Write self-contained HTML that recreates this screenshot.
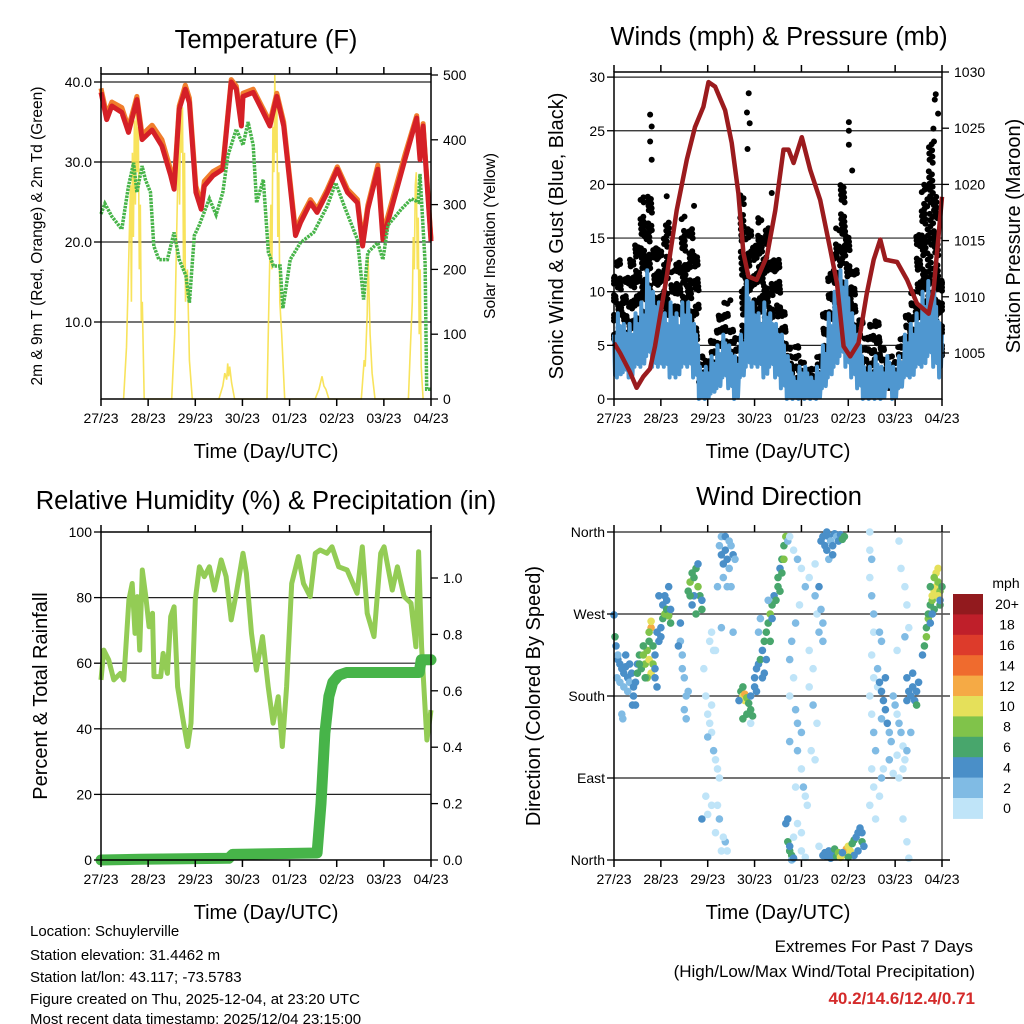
<!DOCTYPE html>
<html><head><meta charset="utf-8"><style>
html,body{margin:0;padding:0;background:#fff;}
svg{display:block;font-family:"Liberation Sans",sans-serif;}
</style></head><body>
<svg id="c" width="1024" height="1024" viewBox="0 0 1024 1024" xmlns="http://www.w3.org/2000/svg">
<g id="g"></g>
<g font-size="15" fill="#000">
<text x="30" y="936">Location: Schuylerville</text>
<text x="30" y="960">Station elevation: 31.4462 m</text>
<text x="30" y="982">Station lat/lon: 43.117; -73.5783</text>
<text x="30" y="1004">Figure created on Thu, 2025-12-04, at 23:20 UTC</text>
<text x="30" y="1024">Most recent data timestamp: 2025/12/04 23:15:00</text>
</g>
<g text-anchor="end">
<text x="973" y="952" font-size="17">Extremes For Past 7 Days</text>
<text x="975" y="977" font-size="17">(High/Low/Max Wind/Total Precipitation)</text>
<text x="975" y="1004" font-size="17" font-weight="bold" fill="#d42a2a">40.2/14.6/12.4/0.71</text>
</g>
</svg>
<script>
// ---------- data ----------
const dayLabels=["27/23","28/23","29/23","30/23","01/23","02/23","03/23","04/23"];
const tH=[0,2.9,5.5,10.6,14,18.3,20.9,26,31,35.5,37.2,39.8,42.9,45,48.3,51,52.6,57,62,66.3,68.9,71.5,72.3,77.5,81.8,86,89.5,93,99,101.5,106.6,110,115.2,120.3,125.5,130.6,133.2,135.8,140.9,143.5,147.8,154.7,160.7,162.4,164,168];
const t2m=[38.7,35.3,37,36.2,33.7,37.8,32.8,34,32,28.3,26.6,36.6,39.1,37.4,26.2,24.1,27,28.3,29.1,40,39.1,34.5,38.2,38.7,36.6,34.5,38.2,34.5,20.8,22.4,24.9,23.7,26.2,29.1,26.2,24.9,19.5,24.1,29.1,20.3,24.1,30.3,35.5,30.3,34.5,20.1];
const t9m=[39.2,35.9,37.5,36.8,34.3,38.2,33.4,34.6,32.8,29,27.2,37,39.6,38,27,24.7,27.6,28.8,29.5,40.3,39.5,35,38.6,39.1,37,35,38.6,35,21.4,22.9,25.3,24.1,26.6,29.4,26.6,25.3,20,24.6,29.6,21,24.8,30.9,35.8,30.8,34.8,20.4];
const tdH=[0,2,5.5,10.6,14,16.6,18.3,20.9,22.6,25.2,26.9,29.5,33.8,37.2,39.8,43.2,45,47.5,50,55.2,58.6,62,64.6,68.9,72.3,74.9,77.5,79.2,82.6,85.2,87.8,91.2,92.6,96.3,101.5,108.3,115.2,119.5,123.8,130.6,133.7,135.8,140.9,143.5,146.1,152.9,158,161.5,162.4,165,165.8,168];
const td2m=[23.5,24.8,23.2,21.6,27,29.9,26.2,29.5,27.8,26.2,19.5,17.8,17.8,21.2,17.8,15.8,12.4,20.8,22.1,25.4,23.4,26.2,30.8,34.1,32.1,35,32.1,24.9,27.8,18.7,17,17,11.7,17.8,19.9,21.2,24.5,27.4,24.5,20.3,12.8,18.7,19.9,17.8,22.1,24.1,25.4,25,28.5,17.4,1.6,1.6];
const solarH=[11.5,13,14,15,15.5,16,16.5,17,17.5,18,18.5,19,19.5,20,20.5,21,22,36,37.5,38.5,39.5,40,40.5,41,41.5,42,42.5,43,44,45,46.5,60,62,63,64,64.5,65,65.5,66.5,68,84.5,85.5,86.5,87,87.5,88,88.5,89,89.5,90,90.5,91,92,93.5,109,111,112.5,113.5,114.5,116,132.5,134,134.5,135,135.5,136,136.5,137,138,139.5,156.5,157.5,158.5,159,159.5,160,160.5,161,161.5,162,162.5,163,164];
const solarV=[0,80,200,330,150,380,250,430,300,460,350,420,200,300,120,150,0,0,100,250,400,300,460,380,450,200,380,150,200,60,0,0,20,40,30,55,35,50,25,0,0,150,300,200,420,350,500,380,470,250,350,150,100,0,0,15,35,20,15,0,0,60,50,90,130,220,160,100,40,0,0,80,150,250,200,330,350,200,280,100,200,50,0];
const presH=[0,3.1,8.2,11.6,15,18.5,21,27,32.1,37.3,41.5,45.8,48.4,51.8,56.9,60.3,63.7,66.3,68.9,73.1,78.3,82.6,86.8,89.4,92,96.2,100.5,105.6,110.8,114.2,117.6,121,125.3,129.5,133,136.4,139,145,150.1,155.2,161.2,163.7,166.3,168];
const presMb=[1005.9,1005,1003.3,1001.9,1002.9,1003.6,1005.6,1011.8,1017.7,1022.2,1025.1,1026.9,1029.1,1028.7,1026.6,1023.7,1019.2,1013.9,1011.8,1011.5,1013.6,1017.7,1023.1,1023.1,1021.9,1024.2,1021.3,1018.6,1014.2,1011.2,1005.6,1004.7,1005.9,1010.3,1013.3,1015.1,1013.3,1013.1,1011.5,1009.4,1008.5,1010.6,1015.6,1018.9];
const binH=[0,3,6,9,12,15,18,21,24,27,30,33,36,39,42,45,48,51,54,57,60,63,66,69,72,75,78,81,84,87,90,93,96,99,102,105,108,111,114,117,120,123,126,129,132,135,138,141,144,147,150,153,156,159,162,165,168];
const windLo=[2,2,2.5,2,3,3,4,3,3,3,2,2,3,3,2,0,0,0.5,1,2,1,0,2,3,3,3,2,3,2,1,0,0,0,0,0,0,1,2,3,4,3,2,1,0,0,0,0,1,0,1,2,2,3,3,4,3,2];
const windHi=[7,8,7,7,8,9,12,10,9,8,9,8,9,9,7,3,3,4,5,6,5,4,6,11,9,8,9,8,7,6,4,2,3,3,2,3,5,8,10,12,11,8,6,3,3,4,3,4,3,4,6,7,8,10,11,10,7];
const gustLo=[5,4,5,5,6,7,8,6,5,4,4,5,5,5,5,1,2,2,3,4,3,2,5,6,5,6,5,5,4,3,2,1,1,1,0.5,1,3,5,6,8,6,5,3,2,2,2,1,1,1,3,4,5,7,8,9,6,4];
const gustHi=[12,13,12,13,15,19,19,15,14,17,12,13,17,16,14,4,4,6,8,9,7,6,19,16,15,17,16,14,13,9,5,5,4,3,3,4,9,12,16,20,16,12,8,6,7,8,5,4,4,6,8,10,16,20,24,19,12];
const gustOutH=[18.5,19.3,18.5,19.3,27,69,68.1,69.5,68.4,120.3,120.3,120.3,122,164.8,164.3,166,163.6,163.9,41,80.8,59.6,52.7];
const gustOutV=[26.5,25.4,24,22.3,18.9,28.5,26.7,25.7,23.3,25.8,25,23.7,21.3,28.4,27.9,26.6,25.2,24,18,19.2,9.2,3.2];
const rhH=[0,1.4,3.9,6.5,9.9,11.6,14.2,15.9,17.3,18.5,19.7,21,22.8,24.5,26.2,27,30.4,31.6,33.8,35.5,37.2,39,41.5,44.1,45.8,48,50.1,52.6,55.2,57.8,61.2,63.7,66.3,68.9,72.3,74,76.6,79.1,82.2,85.1,87.6,90.2,92.3,94.5,97.1,100.5,103.1,106.5,109.1,111.6,115,117.6,121,125.3,130.4,133,135.5,139,142.4,144.1,148.3,150.9,154.3,157.8,160.3,161.7,163.2,165.9,168];
const rhV=[54.9,64,61,54.9,56.9,54.9,79.3,84.3,69.1,80.3,64,88.4,80.3,71.1,75.2,55.9,55.9,63,56.9,74.2,77.2,52.8,43.7,34.6,41.7,79.3,89.4,86.4,89.4,82.3,91.5,86.4,73.2,81.3,93.5,87.4,69.1,57.9,68.1,52.8,41.7,49.8,34.6,52.8,84.3,92.5,84.3,80.3,93.5,94.5,93.5,95.5,89.4,88.4,81.3,95.5,75.2,68.1,93.5,95.5,82.3,89.4,80.3,78.3,65,94,65,36.6,45.7];
const precH=[0,20,65,67,110,112,114,116,118,121,125,162,163,168];
const precIn=[0,0.003,0.006,0.02,0.025,0.2,0.45,0.58,0.63,0.655,0.665,0.665,0.71,0.71];
const speedBins=[0,2,4,6,8,10,12,14,16,18,20];
const speedLabels=["0","2","4","6","8","10","12","14","16","18","20+"];
const speedColors=["#bfe4f8","#80bbe4","#4a8fc8","#48a66c","#80c34a","#e5e05a","#f5aa45","#ef6b2e","#dd3b2b","#bf1f2a","#921a1e"];
const dirObs=[[0,269,4],[0.5,245,6],[1,235,4],[2,220,4],[3,215,4],[4,210,4],[5,205,4],[6,212,4],[7,200,4],[8,195,2],[9,205,4],[10,190,4],[10,180,4],[9.5,170,4],[4,160,2],[4.5,155,2],[3,195,2],[6,225,4],[12,215,4],[13,225,6],[12,205,6],[11,195,4],[2,225,2],[7,185,2],[8,215,4],[1.5,200,2],[11,170,4],[5,190,2],
[14,210,6],[15,225,8],[16,215,8],[17,230,8],[18,220,10],[18,240,6],[19,205,10],[17,200,8],[16,200,6],[20,215,8],[20,235,6],[21,225,4],[19,255,12],[19,262,10],[18,250,8],[15,235,6],[21,200,4],[22,190,4],[21,210,4],[13,215,6],
[23,240,4],[24,255,4],[25,265,6],[25,280,4],[26,270,8],[27,275,6],[28,268,8],[29,260,6],[26,290,4],[24,245,4],[22,250,4],[27,285,4],[29,275,4],[23,290,4],[28,300,4],
[34,260,4],[34,240,2],[35,225,2],[35,210,2],[36,200,2],[37,180,2],[36,165,2],[37,155,2],[33,235,4],[38,185,2],
[38,295,6],[39,305,8],[40,315,6],[41,310,6],[42,320,6],[43,300,8],[44,290,6],[45,275,6],[42,270,6],[40,280,4],[41,290,4],[43,325,4],[45,285,4],[39,290,6],
[47,180,0],[48,160,0],[49,150,0],[50,140,0],[51,120,2],[52,110,0],[50,170,0],[48,135,2],[53,100,0],[54,90,0],[50,60,0],[48,50,0],[47,70,0],[52,30,0],[54,45,2],[57,20,2],[58,10,0],[55,10,0],[49,240,0],[50,250,0],[51,230,0],[46,210,0],[53,60,0],[56,25,0],[45,45,4],
[54,345,2],[55,335,4],[56,325,4],[57,340,4],[58,330,4],[59,320,2],[60,345,2],[61,335,4],[62,330,2],[55,355,2],[57,355,4],[59,350,2],[56,310,2],[58,300,2],[60,300,2],[53,300,2],[52,230,0],[55,255,2],[61,250,2],
[65,185,6],[66,180,10],[67,182,12],[67,175,10],[68,178,8],[69,172,6],[66,190,6],[70,165,6],[71,158,6],[70,180,4],[72,190,4],[68,160,6],[64,175,4],[66,155,6],[70,150,0],
[72,200,4],[73,210,4],[74,215,4],[75,220,6],[76,230,4],[77,240,6],[78,250,6],[79,260,6],[80,270,8],[81,280,6],[82,290,4],[74,250,2],[75,265,2],[76,200,4],[78,220,4],[80,240,6],[79,285,2],[81,265,4],[73,185,4],[77,205,4],[83,285,6],[84,300,6],[84,310,6],[85,320,4],[86,330,6],[87,345,6],[88,355,8],[86,315,6],[85,295,6],[87,330,8],
[89,350,2],[90,355,0],[92,340,0],[94,330,2],[96,320,0],[98,300,2],[95,280,0],[93,260,2],[91,240,2],[90,220,2],[92,200,0],[90,180,0],[93,165,2],[94,150,2],[96,140,2],[94,120,2],[96,100,0],[97,80,2],[98,70,0],[94,40,0],[96,30,0],[100,230,0],[102,210,0],[100,190,0],[102,170,2],[104,150,0],[101,120,0],[103,110,0],[105,250,2],[104,270,0],[106,275,2],[107,260,2],[103,290,2],[100,310,0],[103,325,0],[105,300,4],[107,240,2],[90,130,2],[93,80,0],[99,60,0],[105,15,0],
[89,20,6],[90,10,6],[91,5,6],[90,15,4],[91,0,2],[92,2,4],[88,40,4],[89,45,4],[92,25,0],[96,10,0],[98,3,0],
[106,350,4],[107,355,4],[108,345,4],[109,340,4],[110,355,4],[111,350,2],[112,345,4],[113,358,4],[114,355,2],[115,350,4],[116,357,4],[117,352,6],[118,355,6],[110,330,2],[112,335,4],[109,360,4],
[107,5,4],[108,8,4],[109,4,4],[110,10,4],[111,2,4],[112,6,4],[113,12,6],[114,4,6],[115,8,8],[116,3,10],[118,6,10],[119,12,12],[120,15,10],[121,10,10],[122,18,6],[123,22,6],[124,25,4],[125,30,4],[126,35,4],[127,20,6],[125,10,4],[123,5,4],[128,15,4],[127,30,4],[117,8,4],[120,3,6],
[131,360,0],[131,340,0],[132,330,2],[131,310,0],[132,290,2],[133,270,2],[133,250,0],[132,225,0],[133,200,0],[131,180,0],[132,160,0],[133,140,2],[134,120,2],[132,100,0],[133,80,0],[131,60,0],[134,45,0],[136,70,0],[137,90,2],[138,100,0],[135,210,2],[136,250,2],[137,240,2],[135,190,0],
[136,195,4],[137,185,4],[138,175,4],[139,165,4],[140,150,4],[141,140,2],[139,200,4],[137,155,2],[142,130,2],[143,180,2],[144,170,2],[145,160,0],[146,150,2],[147,140,2],[148,125,0],[149,110,0],[150,175,4],[151,185,4],[152,180,4],[153,190,4],[154,175,4],[155,185,4],[156,195,4],[155,170,6],[148,100,0],[146,90,0],[150,120,2],[152,140,2],[145,115,0],[150,200,4],[153,205,4],[141,110,2],[143,95,0],
[146,350,0],[147,320,0],[149,300,0],[150,280,0],[151,255,0],[149,245,2],[145,230,0],[150,20,0],[151,2,0],[148,45,0],
[158,225,4],[159,235,6],[160,245,8],[160,255,6],[161,265,8],[161,270,6],[162,280,6],[163,285,8],[163,290,10],[164,295,10],[165,300,10],[166,305,8],[165,315,10],[166,320,10],[167,295,8],[167,280,6],[164,275,6],[162,260,4],[164,310,8],[166,290,10],[167,285,4],[168,300,6],[162,300,6],[163,270,4]];

// ---------- helpers ----------
const NS="http://www.w3.org/2000/svg";
const root=document.getElementById('g');
function mk(tag,attrs,parent){const e=document.createElementNS(NS,tag);for(const k in attrs)e.setAttribute(k,attrs[k]);(parent||root).appendChild(e);return e;}
function txt(x,y,s,attrs,parent){const e=mk('text',Object.assign({x:x,y:y},attrs||{}),parent);e.textContent=s;return e;}
function pathOf(xs,ys){return xs.map((x,i)=>(i?'L':'M')+x.toFixed(1)+' '+ys[i].toFixed(1)).join('');}
function frac(v){return v-Math.floor(v);}

function panel(name){const g=mk('g',{});return g;}
function frame(g,L,R,T,B){const f=mk('rect',{x:L,y:T,width:R-L,height:B-T,fill:'none',stroke:'#000','stroke-width':1.5},g);}
function xAxis(g,L,R,T,B){
  const ax=mk('g',{},g);
  dayLabels.forEach((s,i)=>{const x=L+i*(R-L)/7;
    mk('line',{x1:x,x2:x,y1:B,y2:B+7,stroke:'#000','stroke-width':1.5},ax);
    mk('line',{x1:x,x2:x,y1:T,y2:T-7,stroke:'#000','stroke-width':1.5},ax);
    const t=txt(x,B+24,s,{'font-size':14,'text-anchor':'middle'},ax);});
  const t=txt((L+R)/2,B+59,'Time (Day/UTC)',{'font-size':20,'text-anchor':'middle'},ax);
}
function hGrid(g,L,R,ys){ys.forEach(y=>mk('line',{x1:L,x2:R,y1:y,y2:y,stroke:'#222','stroke-width':1.2},g));}
function yTicks(g,x,ys,labels,side,name){
  const ax=mk('g',{},g);
  ys.forEach((y,i)=>{const d=side==='l'?-7:7;mk('line',{x1:x,x2:x+d,y1:y,y2:y,stroke:'#000','stroke-width':1.3},ax);
    const t=txt(side==='l'?x-9:x+12,y+5,labels[i],{'font-size':14,'text-anchor':side==='l'?'end':'start'},ax);});
}
function vTitle(g,x,y,s,size,name){const t=txt(0,0,s,{'font-size':size,'text-anchor':'middle',transform:`translate(${x},${y}) rotate(-90)`},g);}
function title(g,x,y,s,name){const t=txt(x,y,s,{'font-size':25.5,'text-anchor':'middle'},g);}

// ---------- Panel 1: Temperature ----------
(function(){
  const L=101,R=431,T=74,B=399;
  const xS=h=>L+h*(R-L)/168, yT=v=>402-v*8, yS=v=>399-v*0.648;
  const g=panel('temperature-panel');
  title(g,266,48,'Temperature (F)','temperature-title');
  hGrid(g,L,R,[40,30,20,10].map(yT));
  const sol=mk('path',{d:pathOf(solarH.map(xS),solarV.map(yS)),fill:'none',stroke:'#f7e04a','stroke-width':1.6,opacity:0.9},g);
  
  const o=mk('path',{d:pathOf(tH.map(xS),t9m.map(yT)),fill:'none',stroke:'#f07e2c','stroke-width':5,'stroke-linejoin':'round'},g);
  
  const r=mk('path',{d:pathOf(tH.map(xS),t2m.map(yT)),fill:'none',stroke:'#d52027','stroke-width':5,'stroke-linejoin':'round'},g);
  
  const d=mk('path',{d:pathOf(tdH.map(xS),td2m.map(yT)),fill:'none',stroke:'#47b449','stroke-width':3.5,'stroke-dasharray':'2.5 1'},g);
  
  frame(g,L,R,T,B);
  yTicks(g,L,[40,30,20,10].map(yT),["40.0","30.0","20.0","10.0"],'l','y-axis-left');
  yTicks(g,R,[500,400,300,200,100,0].map(yS),["500","400","300","200","100","0"],'r','y-axis-right');
  xAxis(g,L,R,T,B);
  vTitle(g,42,236,'2m & 9m T (Red, Orange) & 2m Td (Green)',15.5,'y-axis-left-title');
  vTitle(g,495,236,'Solar Insolation (Yellow)',15.5,'y-axis-right-title');
})();

// ---------- Panel 2: Winds ----------
(function(){
  const L=614,R=942,T=72,B=399;
  const xS=h=>L+h*(R-L)/168, yW=v=>399-v*10.73, yP=m=>72+(1030-m)*11.24;
  const g=panel('winds-panel');
  title(g,779,45,'Winds (mph) & Pressure (mb)','winds-title');
  hGrid(g,L,R,[30,25,20,15,10,5].map(yW));
  const gg=mk('g',{fill:'#000'},g);
  let n=0;
  binH.forEach((b,i)=>{const lo=gustLo[i],hi=gustHi[i];const k=Math.round((hi-lo)*2.6)+5;
    for(let j=0;j<k;j++){n++;const h=Math.max(0,Math.min(168,b-1.5+frac(n*0.618)*3));const v=lo+frac(n*0.7548+0.31)*(hi-lo);
      mk('circle',{cx:xS(h).toFixed(1),cy:yW(v).toFixed(1),r:3},gg);}});
  gustOutH.forEach((h,i)=>mk('circle',{cx:xS(h),cy:yW(gustOutV[i]),r:3},gg));
  const xs=[],ys=[];const pat=[0,1,0.2,0.8,0.05,0.6];
  binH.forEach((b,i)=>{for(let j=0;j<6;j++){const h=b-1.5+j*0.5;if(h<0||h>168)continue;xs.push(xS(h));ys.push(yW(windLo[i]+pat[j]*(windHi[i]-windLo[i])));}});
  const w=mk('path',{d:pathOf(xs,ys),fill:'none',stroke:'#4f97d0','stroke-width':4,'stroke-linejoin':'round'},g);
  
  const p=mk('path',{d:pathOf(presH.map(xS),presMb.map(yP)),fill:'none',stroke:'#9b1b1e','stroke-width':4.5,'stroke-linejoin':'round'},g);
  
  frame(g,L,R,T,B);
  yTicks(g,L,[0,5,10,15,20,25,30].map(yW),["0","5","10","15","20","25","30"],'l','y-axis-left');
  yTicks(g,R,[1005,1010,1015,1020,1025,1030].map(yP),["1005","1010","1015","1020","1025","1030"],'r','y-axis-right');
  xAxis(g,L,R,T,B);
  vTitle(g,563,236,'Sonic Wind & Gust (Blue, Black)',20,'y-axis-left-title');
  vTitle(g,1020,236,'Station Pressure (Maroon)',20,'y-axis-right-title');
})();

// ---------- Panel 3: RH & precip ----------
(function(){
  const L=101,R=431,T=532,B=860;
  const xS=h=>L+h*(R-L)/168, yR=v=>860-v*3.28, yPr=v=>860-v*282;
  const g=panel('humidity-panel');
  title(g,266,509,'Relative Humidity (%) & Precipitation (in)','humidity-title');
  hGrid(g,L,R,[80,60,40,20].map(yR));
  const rh=mk('path',{d:pathOf(rhH.map(xS),rhV.map(yR)),fill:'none',stroke:'#93cc55','stroke-width':5,'stroke-linejoin':'round'},g);
  
  const pr=mk('path',{d:pathOf(precH.map(xS),precIn.map(yPr)),fill:'none',stroke:'#47b449','stroke-width':11,'stroke-linejoin':'round','stroke-linecap':'round'},g);
  
  frame(g,L,R,T,B);
  yTicks(g,L,[0,20,40,60,80,100].map(yR),["0","20","40","60","80","100"],'l','y-axis-left');
  yTicks(g,R,[0,0.2,0.4,0.6,0.8,1.0].map(yPr),["0.0","0.2","0.4","0.6","0.8","1.0"],'r','y-axis-right');
  xAxis(g,L,R,T,B);
  vTitle(g,47,696,'Percent & Total Rainfall',20,'y-axis-left-title');
})();

// ---------- Panel 4: Wind direction ----------
(function(){
  const L=614,R=942,T=532,B=860;
  const xS=h=>L+h*(R-L)/168, yD=d=>860-d*(B-T)/360;
  const g=panel('wind-direction-panel');
  title(g,779,505,'Wind Direction','wind-direction-title');
  hGrid(g,L,R+8,[360,270,180,90].map(yD));
  const pg=mk('g',{},g);
  dirObs.forEach(o=>{let k=0;speedBins.forEach((s,i)=>{if(o[2]>=s)k=i;});
    mk('circle',{cx:xS(o[0]).toFixed(1),cy:yD(o[1]).toFixed(1),r:3.8,fill:speedColors[k]},pg);});
  mk('line',{x1:L,x2:L,y1:T,y2:B,stroke:'#000','stroke-width':1.5},g);
  mk('line',{x1:R,x2:R,y1:T,y2:B,stroke:'#555','stroke-width':1.5},g);
  mk('line',{x1:L,x2:R+8,y1:B,y2:B,stroke:'#000','stroke-width':1.5},g);
  yTicks(g,L,[0,90,180,270,360].map(yD),["North","East","South","West","North"],'l','y-axis-left');
  xAxis(g,L,R,T,B);
  vTitle(g,540,696,'Direction (Colored By Speed)',20,'y-axis-left-title');
  const cb=mk('g',{},g);
  const ct=txt(1006,588,'mph',{'font-size':14,'text-anchor':'middle'},cb);
  const bh=20.4;
  for(let i=0;i<speedColors.length;i++){const idx=speedColors.length-1-i;const y=594+i*bh;
    const r=mk('rect',{x:953,y:y,width:30,height:bh+0.5,fill:speedColors[idx]},cb);
    const t=txt(1007,y+bh/2+5,speedLabels[idx],{'font-size':14,'text-anchor':'middle'},cb);}
})();
</script>
</body></html>
